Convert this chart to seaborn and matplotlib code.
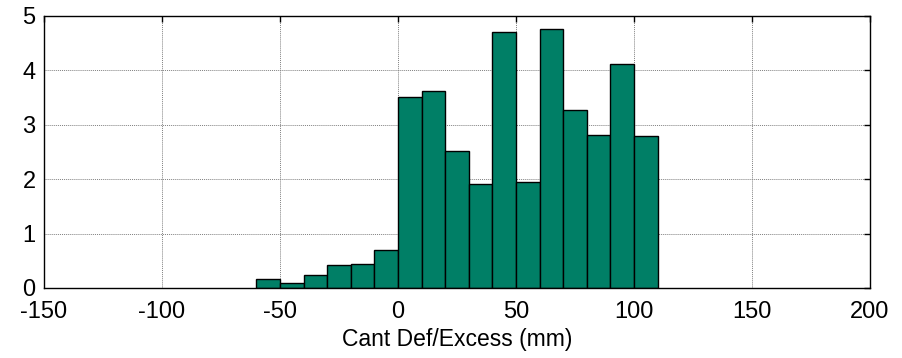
import matplotlib
matplotlib.use("Agg")
import matplotlib.pyplot as plt
import seaborn as sns
import numpy as np
import pandas as pd

# Data
bin_left = [-60, -50, -40, -30, -20, -10, 0, 10, 20, 30, 40, 50, 60, 70, 80, 90, 100]
heights = [0.17, 0.10, 0.24, 0.42, 0.45, 0.70, 3.52, 3.62, 2.51, 1.92, 4.71, 1.95,
           4.77, 3.27, 2.82, 4.11, 2.79]
bin_width = 10
x_ticks = [-150, -100, -50, 0, 50, 100, 150, 200]
y_ticks = [0, 1, 2, 3, 4, 5]
xlabel = "Cant Def/Excess (mm)"

sns.set_style("white")
plt.rcParams['font.family'] = ['Liberation Sans', 'DejaVu Sans']

df = pd.DataFrame({"center": np.array(bin_left) + bin_width / 2, "h": heights})
edges = list(bin_left) + [bin_left[-1] + bin_width]

fig = plt.figure(figsize=(9.02, 3.58), dpi=100)
ax = fig.add_axes([44 / 902, (358 - 288) / 358, 826 / 902, 272 / 358])

sns.histplot(data=df, x="center", weights="h", bins=edges, ax=ax,
             color="#007F66", alpha=1.0, edgecolor="black", linewidth=1.0)

ax.set_xlim(-150, 200)
ax.set_ylim(0, 5)
ax.set_xticks(x_ticks)
ax.set_yticks(y_ticks)
ax.set_xticklabels([str(t) for t in x_ticks])
ax.set_yticklabels([str(t) for t in y_ticks])
ax.grid(True, linestyle=(0, (1, 1)), color="#808080", linewidth=0.7)
ax.set_axisbelow(True)
ax.tick_params(direction="in", length=4, width=1, top=True, right=True,
               labelsize=17, colors="black", labelcolor="black")
ax.tick_params(axis="x", pad=9)
ax.tick_params(axis="y", pad=6)
for s in ax.spines.values():
    s.set_color("black")
    s.set_linewidth(1.0)
ax.set_xlabel(xlabel, fontsize=16.5, labelpad=4, color="black")
ax.set_ylabel("")

fig.savefig("out.png", dpi=100)
